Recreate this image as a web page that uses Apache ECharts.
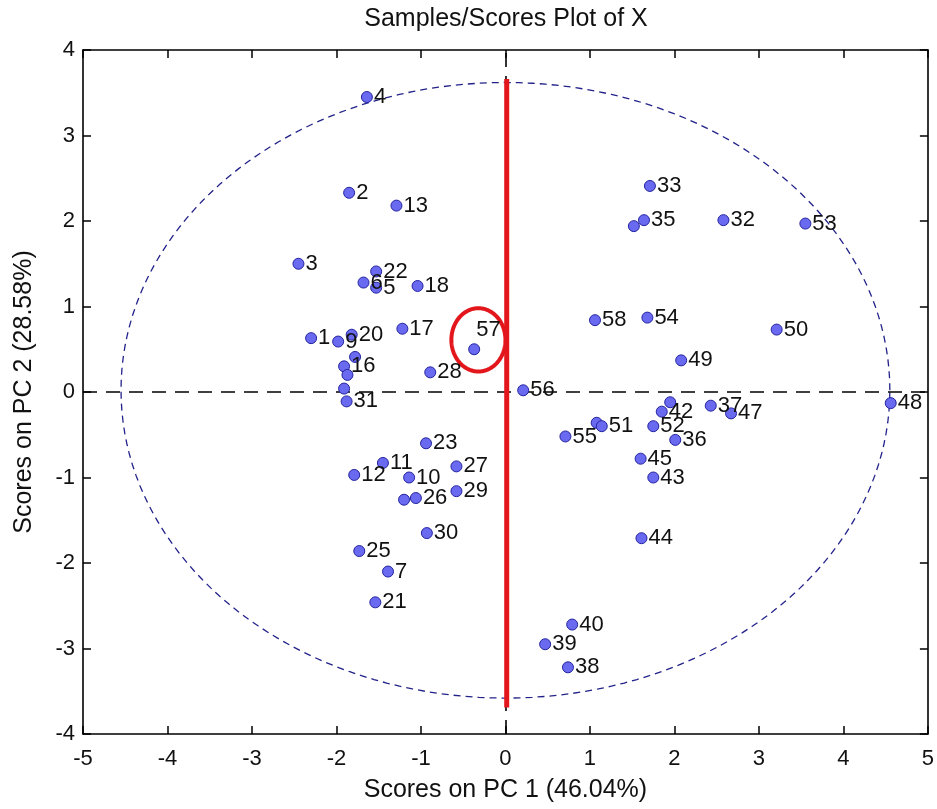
<!DOCTYPE html>
<html>
<head>
<meta charset="utf-8">
<script src="https://cdn.jsdelivr.net/npm/echarts@6/dist/echarts.min.js"></script>
<style>
html,body{margin:0;padding:0;background:#fff;}
#chart{width:937px;height:809px;}
</style>
</head>
<body>
<div id="chart"></div>
<script>
// Sample labels ('' = point hidden under a neighbour, label not readable)
var sampleLabels = ['1','2','3','4','5','6','7','9','10','11','12','13','16','','','17','18','20','21','22','23','','25','26','27','28','29','30','31','',
  '32','33','','35','36','37','38','39','40','','42','43','44','45','','47','48','49','50','51','52','53','54','55','56','57','58'];
var pc1Scores = [-2.30,-1.85,-2.45,-1.64,-1.53,-1.68,-1.39,-1.98,-1.14,-1.45,-1.79,-1.29,-1.91,-1.78,-1.87,-1.22,-1.04,-1.82,-1.54,-1.53,-0.94,-1.20,-1.73,-1.06,-0.58,-0.89,-0.58,-0.93,-1.88,-1.91,
  2.58,1.71,1.52,1.64,2.01,2.43,0.74,0.47,0.79,1.95,1.85,1.75,1.61,1.60,1.08,2.67,4.56,2.08,3.21,1.14,1.75,3.55,1.68,0.71,0.21,-0.37,1.06];
var pc2Scores = [0.63,2.33,1.50,3.45,1.22,1.28,-2.10,0.59,-1.00,-0.83,-0.97,2.18,0.30,0.41,0.20,0.74,1.24,0.67,-2.46,1.41,-0.60,-1.26,-1.86,-1.24,-0.87,0.23,-1.16,-1.65,-0.11,0.04,
  2.01,2.41,1.94,2.01,-0.56,-0.16,-3.22,-2.95,-2.72,-0.12,-0.23,-1.00,-1.71,-0.78,-0.36,-0.25,-0.13,0.37,0.73,-0.40,-0.40,1.97,0.87,-0.52,0.02,0.50,0.84];

var xTicks = [-5,-4,-3,-2,-1,0,1,2,3,4,5];
var yTicks = [-4,-3,-2,-1,0,1,2,3,4];

// confidence ellipse [cx, cy, rx, ry] and highlighted-sample ring [cx, cy, rx, ry]
var confEllipse = [0.0, 0.02, 4.55, 3.60];
var highlightRing = [-0.32, 0.61, 0.32, 0.37];
// red vertical separator [[x,yBottom],[x,yTop]]
var redLine = [[0.015, -3.69], [0.015, 3.66]];

var points = pc1Scores.map(function (x, i) {
  var p = { value: [x, pc2Scores[i]], name: sampleLabels[i] };
  if (sampleLabels[i] === '57') {
    p.label = { position: [8, -24] };
  }
  return p;
});

function ellipseRenderer(params, api) {
  var cx = api.value(0), cy = api.value(1), rx = api.value(2), ry = api.value(3);
  var pts = [];
  var n = 180;
  for (var k = 0; k <= n; k++) {
    var t = (k / n) * Math.PI * 2;
    pts.push(api.coord([cx + rx * Math.cos(t), cy + ry * Math.sin(t)]));
  }
  return pts;
}

var font = 'Liberation Sans, Arial, sans-serif';
var chart = echarts.init(document.getElementById('chart'), null, { renderer: 'canvas' });

var axisCommon = {
  axisLine: { show: true, onZero: false, lineStyle: { color: '#000', width: 1.6 } },
  axisTick: { show: true, inside: true, length: 8, lineStyle: { color: '#000', width: 1.5 } },
  splitLine: { show: false }
};

chart.setOption({
  backgroundColor: '#fff',
  animation: false,
  title: {
    text: 'Samples/Scores Plot of X',
    left: 506, top: 7, padding: 0, textAlign: 'center',
    textStyle: { fontFamily: font, fontSize: 25, fontWeight: 'normal', color: '#111' }
  },
  grid: { left: 83, right: 7, top: 50, bottom: 75 },
  xAxis: [
    Object.assign({}, axisCommon, {
      type: 'value', min: xTicks[0], max: xTicks[xTicks.length - 1], interval: 1, position: 'bottom',
      name: 'Scores on PC 1 (46.04%)', nameLocation: 'middle', nameGap: 44,
      nameTextStyle: { fontFamily: font, fontSize: 25, color: '#111' },
      axisLabel: { show: true, margin: 14, fontFamily: font, fontSize: 22, color: '#111' }
    }),
    Object.assign({}, axisCommon, {
      type: 'value', min: xTicks[0], max: xTicks[xTicks.length - 1], interval: 1, position: 'top',
      axisLabel: { show: false }
    })
  ],
  yAxis: [
    Object.assign({}, axisCommon, {
      type: 'value', min: yTicks[0], max: yTicks[yTicks.length - 1], interval: 1, position: 'left',
      name: 'Scores on PC 2 (28.58%)', nameLocation: 'middle', nameGap: 46,
      nameTextStyle: { fontFamily: font, fontSize: 25, color: '#111' },
      axisLabel: { show: true, margin: 8, fontFamily: font, fontSize: 22, color: '#111' }
    }),
    Object.assign({}, axisCommon, {
      type: 'value', min: yTicks[0], max: yTicks[yTicks.length - 1], interval: 1, position: 'right',
      axisLabel: { show: false }
    })
  ],
  series: [
    {
      type: 'custom', xAxisIndex: 0, yAxisIndex: 0, z: 2, silent: true,
      data: [confEllipse],
      renderItem: function (params, api) {
        return {
          type: 'polyline',
          shape: { points: ellipseRenderer(params, api) },
          style: { stroke: '#22228a', lineWidth: 1.3, fill: null, lineDash: [7, 5] }
        };
      }
    },
    {
      type: 'line', xAxisIndex: 0, yAxisIndex: 0, z: 3, silent: true,
      data: [],
      markLine: {
        silent: true, symbol: 'none', label: { show: false },
        lineStyle: { color: '#000', width: 1.6, type: [14, 9] },
        data: [{ yAxis: 0 }, { xAxis: 0 }]
      }
    },
    {
      type: 'line', xAxisIndex: 0, yAxisIndex: 0, z: 10, silent: true,
      data: redLine, symbol: 'none',
      lineStyle: { color: '#e3161c', width: 5 }
    },
    {
      type: 'custom', xAxisIndex: 0, yAxisIndex: 0, z: 10, silent: true,
      data: [highlightRing],
      renderItem: function (params, api) {
        return {
          type: 'polyline',
          shape: { points: ellipseRenderer(params, api) },
          style: { stroke: '#e3161c', lineWidth: 4, fill: null }
        };
      }
    },
    {
      type: 'scatter', xAxisIndex: 0, yAxisIndex: 0, z: 11,
      symbol: 'circle', symbolSize: 11,
      itemStyle: { color: '#6a6af0', borderColor: '#2323a0', borderWidth: 1, opacity: 1 },
      label: {
        show: true, position: 'right', distance: 1,
        formatter: function (p) { return p.name; },
        fontFamily: font, fontSize: 22, color: '#111'
      },
      data: points
    }
  ]
});
</script>
</body>
</html>
